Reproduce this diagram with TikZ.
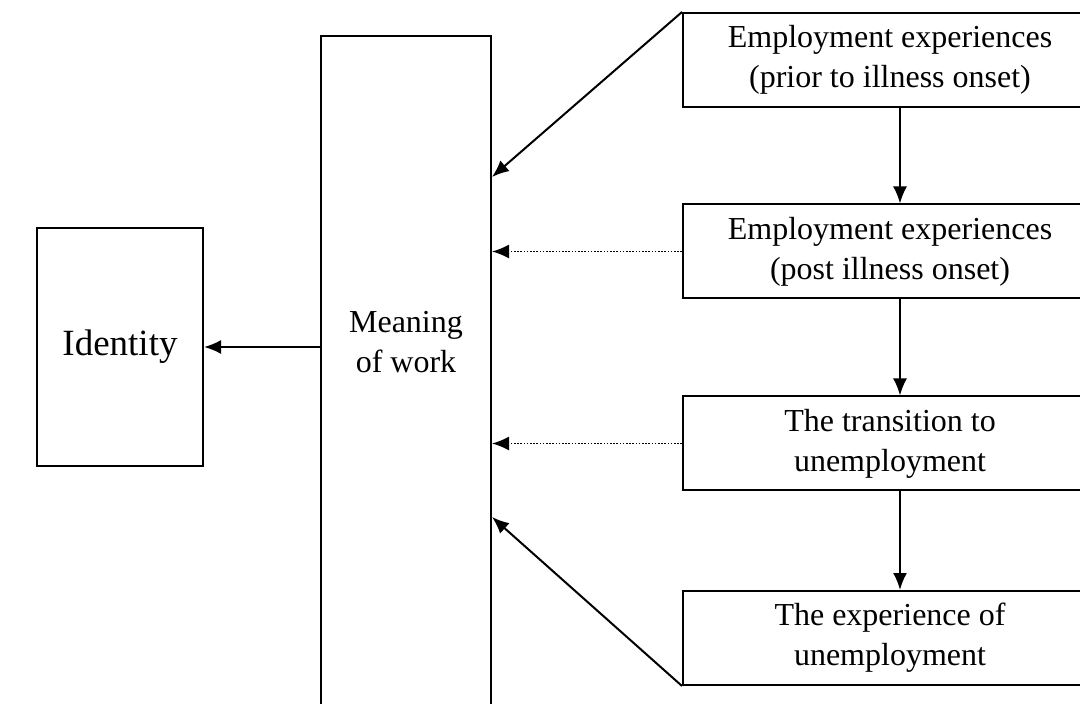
\documentclass[tikz,border=0pt]{standalone}
\usepackage{fontspec}
\setmainfont{Liberation Serif}
\usetikzlibrary{arrows.meta, positioning, calc}

\begin{document}
\begin{tikzpicture}[
            x=0.5pt, y=-0.5pt,
            box/.style={rectangle, draw, line width=1pt, text centered, align=center, inner sep=0pt,
                        font=\fontsize{16}{20}\selectfont},
            stagebox/.style={box, minimum width=207pt, minimum height=47pt},
            arrow/.style={-{Latex[length=8.5pt,width=7pt]}, line width=1pt},
            dotarrow/.style={-{Latex[length=8.5pt,width=7pt]}, line width=0.8pt, dash pattern=on 0.8pt off 0.8pt}
        ]
            \clip (0,0) rectangle (1080,704);
            \useasboundingbox (0,0) rectangle (1080,704);

            \node[box, minimum width=83pt, minimum height=119pt, font=\fontsize{18.5}{22}\selectfont] (identity) at (120,347) {Identity};
            \node[box, minimum width=85pt, minimum height=362pt] (meaning) at (406,398) {};
            \node[font=\fontsize{16}{20}\selectfont, align=center] (meaningtxt) at (406,342) {Meaning\\of work};

            \node[stagebox] (prior) at (890,60) {Employment experiences\\(prior to illness onset)};
            \node[stagebox] (post) at (890,251.5) {Employment experiences\\(post illness onset)};
            \node[stagebox] (transition) at (890,443.5) {The transition to\\unemployment};
            \node[stagebox] (unemp) at (890,638) {The experience of\\unemployment};

            \draw[arrow] (meaning.west |- identity.east) -- (identity.east);
            \draw[arrow] (prior.north west) -- ([yshift=-71pt]meaning.north east);
            \draw[dotarrow] (post.west) -- (post.west -| meaning.east);
            \draw[dotarrow] (transition.west) -- (transition.west -| meaning.east);
            \draw[arrow] (unemp.south west) -- ([yshift=-241pt]meaning.north east);

            \draw[arrow] ([xshift=5pt]prior.south) -- ([xshift=5pt]post.north);
            \draw[arrow] ([xshift=5pt]post.south) -- ([xshift=5pt]transition.north);
            \draw[arrow] ([xshift=5pt]transition.south) -- ([xshift=5pt]unemp.north);
        \end{tikzpicture}
\end{document}
